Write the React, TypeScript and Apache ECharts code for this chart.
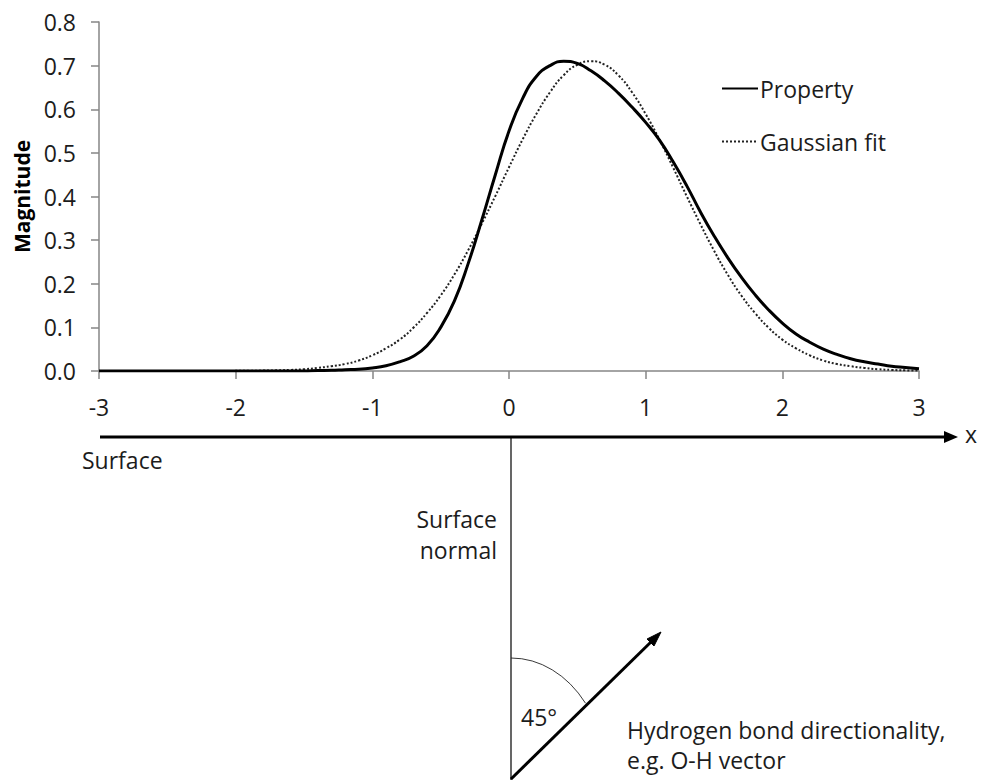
import React, { useEffect, useRef } from "react";
import * as echarts from "echarts";

// sampling grid along x (-3 … 3, step 0.1)
const X_STEPS = 61;
const X_START = -3;
const X_STEP = 0.1;

// measured property profile
const PROPERTY = [
  0, 0, 0, 0, 0, 0, 0, 0, 0, 0, // -3.0 … -2.1
  0, 0, 0, 0, 0, 0, 0.001, 0.0015, 0.003, 0.004, // -2.0 … -1.1
  0.007, 0.012, 0.021, 0.034, 0.058, 0.1, 0.16, 0.245, 0.345, 0.45, // -1.0 … -0.1
  0.55, 0.625, 0.675, 0.7, 0.71, 0.705, 0.688, 0.665, 0.637, 0.605, // 0.0 … 0.9
  0.57, 0.53, 0.48, 0.425, 0.365, 0.31, 0.26, 0.215, 0.175, 0.14, // 1.0 … 1.9
  0.11, 0.085, 0.066, 0.05, 0.038, 0.028, 0.021, 0.016, 0.011, 0.008, // 2.0 … 2.9
  0.005, // 3.0
];

// gaussian fitted to the profile
const GAUSSIAN = [
  0, 0, 0, 0, 0, 0, 0, 0, 0, 0, // -3.0 … -2.1
  0.0003, 0.0005, 0.001, 0.0015, 0.0025, 0.004, 0.007, 0.011, 0.016, 0.024, // -2.0 … -1.1
  0.036, 0.052, 0.072, 0.099, 0.133, 0.173, 0.221, 0.276, 0.337, 0.401, // -1.0 … -0.1
  0.467, 0.531, 0.589, 0.639, 0.678, 0.702, 0.71, 0.702, 0.678, 0.639, // 0.0 … 0.9
  0.589, 0.531, 0.467, 0.401, 0.337, 0.276, 0.221, 0.173, 0.133, 0.099, // 1.0 … 1.9
  0.072, 0.052, 0.036, 0.024, 0.016, 0.011, 0.007, 0.004, 0.0025, 0.0015, // 2.0 … 2.9
  0.0008, // 3.0
];

const SERIES_NAMES = ["Property", "Gaussian fit"];
const Y_TICKS = [0, 0.1, 0.2, 0.3, 0.4, 0.5, 0.6, 0.7, 0.8];
const X_TICKS = [-3, -2, -1, 0, 1, 2, 3];

const FONT = "'Open Sans', Lato, sans-serif";
const FS = 23;
const TEXT = "#1c1c1c";
const AXIS = "#868686";

function pairs(values: number[]): [number, number][] {
  const out: [number, number][] = [];
  for (let i = 0; i < X_STEPS; i++) {
    out.push([+(X_START + i * X_STEP).toFixed(1), values[i]]);
  }
  return out;
}

export default function App() {
  const ref = useRef<HTMLDivElement>(null);

  useEffect(() => {
    if (!ref.current) return;
    const chart = echarts.init(ref.current, undefined, { renderer: "svg" });

    const ox = 511; // foot of the surface normal
    const oy = 779;
    const tipX = 661;
    const tipY = 632;

    const label = (text: string, x: number, y: number, align: string = "left") => ({
      type: "text",
      x,
      y,
      style: { text, fontFamily: FONT, fontSize: FS, fill: TEXT, align, verticalAlign: "middle" },
    });

    chart.setOption({
      animation: false,
      backgroundColor: "#ffffff",
      textStyle: { fontFamily: FONT },
      grid: { left: 99, right: 62, top: 22, bottom: 409, containLabel: false, outerBoundsMode: "none" },
      legend: {
        orient: "vertical",
        left: 716,
        top: 72,
        itemWidth: 36,
        itemHeight: 14,
        itemGap: 30,
        itemStyle: { opacity: 0 },
        textStyle: { fontFamily: FONT, fontSize: FS, color: TEXT, padding: [0, 0, 0, -3] },
        data: SERIES_NAMES,
      },
      xAxis: {
        type: "value",
        min: X_TICKS[0],
        max: X_TICKS[X_TICKS.length - 1],
        interval: 1,
        axisLine: { show: true, onZero: false, lineStyle: { color: AXIS, width: 1.5 } },
        axisTick: { show: true, length: 8, lineStyle: { color: AXIS, width: 1.5 } },
        axisLabel: { fontFamily: FONT, fontSize: FS, color: TEXT, margin: 24 },
        splitLine: { show: false },
      },
      yAxis: {
        type: "value",
        min: Y_TICKS[0],
        max: Y_TICKS[Y_TICKS.length - 1],
        interval: 0.1,
        name: "Magnitude",
        nameLocation: "middle",
        nameGap: 66,
        nameTextStyle: { fontFamily: FONT, fontSize: 21, fontWeight: "bold", color: "#000" },
        axisLine: { show: true, onZero: false, lineStyle: { color: AXIS, width: 1.5 } },
        axisTick: { show: true, length: 8, lineStyle: { color: AXIS, width: 1.5 } },
        axisLabel: {
          fontFamily: FONT,
          fontSize: FS,
          color: TEXT,
          margin: 23,
          formatter: (v: number) => v.toFixed(1),
        },
        splitLine: { show: false },
      },
      series: [
        {
          name: SERIES_NAMES[0],
          type: "line",
          smooth: true,
          symbol: "none",
          data: pairs(PROPERTY),
          lineStyle: { color: "#000", width: 3, type: "solid" },
          itemStyle: { color: "#000" },
          z: 3,
        },
        {
          name: SERIES_NAMES[1],
          type: "line",
          smooth: true,
          symbol: "none",
          data: pairs(GAUSSIAN),
          lineStyle: { color: "#222", width: 2, type: "dotted" },
          itemStyle: { color: "#222" },
          z: 2,
        },
      ],
      graphic: [
        // surface line with arrow pointing along +x
        { type: "line", shape: { x1: 100, y1: 437, x2: 948, y2: 437 }, style: { stroke: "#000", lineWidth: 3 } },
        { type: "polygon", shape: { points: [[958, 437], [944, 431], [944, 443]] }, style: { fill: "#000" } },
        label("x", 965, 434),
        label("Surface", 82, 460),
        // surface normal
        { type: "line", shape: { x1: ox, y1: 437, x2: ox, y2: 780 }, style: { stroke: "#000", lineWidth: 1.2 } },
        label("Surface", 497, 519, "right"),
        label("normal", 497, 550, "right"),
        // angle between normal and the bond vector (slightly elliptical arc)
        {
          type: "arc",
          x: ox,
          y: oy,
          scaleX: 0.79,
          shape: { cx: 0, cy: 0, r: 121, startAngle: -Math.PI / 2, endAngle: -0.677, clockwise: true },
          style: { stroke: "#222", lineWidth: 1, fill: "none", strokeNoScale: true },
        },
        label("45°", 521, 717),
        // bond vector
        { type: "line", shape: { x1: ox, y1: oy, x2: 653, y2: 640 }, style: { stroke: "#000", lineWidth: 3 } },
        {
          type: "polygon",
          shape: { points: [[tipX, tipY], [654, 646], [647, 639]] },
          style: { fill: "#000", stroke: "#000", lineWidth: 1 },
        },
        label("Hydrogen bond directionality,", 627, 730),
        label("e.g. O-H vector", 627, 760),
      ],
    });

    return () => chart.dispose();
  }, []);

  return (
    <div
      ref={ref}
      style={{ position: "absolute", left: 0, top: 0, width: 981, height: 780, background: "#fff" }}
    />
  );
}
